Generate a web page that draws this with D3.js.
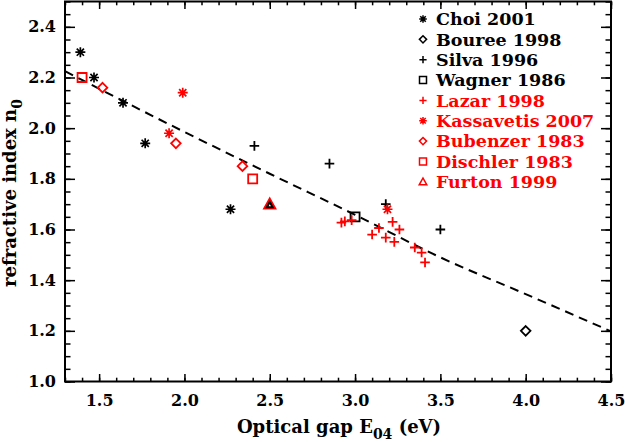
<!DOCTYPE html>
<html><head><meta charset="utf-8">
<script src="https://cdn.jsdelivr.net/npm/d3@7"></script>
<style>
html,body{margin:0;padding:0;background:#fff;}
</style></head>
<body><svg id="c" width="625" height="442"></svg>
<script>
// ---- data ----
const choiE = [1.39, 1.47, 1.64, 1.77, 2.27];
const choiN = [2.30, 2.20, 2.10, 1.94, 1.68];
const boureeE = [4.00];
const boureeN = [1.20];
const silvaE = [2.41, 2.85, 3.18, 3.50];
const silvaN = [1.93, 1.86, 1.70, 1.60];
const wagnerE = [3.00];
const wagnerN = [1.65];
const lazarE = [2.92, 2.94, 2.98, 3.10, 3.14, 3.18, 3.22, 3.23, 3.26, 3.35, 3.39, 3.41];
const lazarN = [1.627, 1.632, 1.637, 1.58, 1.606, 1.568, 1.63, 1.551, 1.60, 1.529, 1.509, 1.47];
const kassE = [1.91, 1.99, 3.19];
const kassN = [1.98, 2.14, 1.68];
const bubE = [1.52, 1.95, 2.34];
const bubN = [2.16, 1.94, 1.85];
const dischE = [1.40, 2.40];
const dischN = [2.20, 1.80];
const furtonE = [2.50];
const furtonN = [1.70];
const fitE = [1.3, 2.0, 2.5, 3.0, 3.5, 4.0, 4.5];
const fitN = [2.225, 1.985, 1.82, 1.658, 1.49, 1.345, 1.198];
const xTicks = [1.5, 2.0, 2.5, 3.0, 3.5, 4.0, 4.5];
const yTicks = [1.0, 1.2, 1.4, 1.6, 1.8, 2.0, 2.2, 2.4];
const seriesNames = ["Choi 2001","Bouree 1998","Silva 1996","Wagner 1986","Lazar 1998","Kassavetis 2007","Bubenzer 1983","Dischler 1983","Furton 1999"];

const series = [
  {name:seriesNames[0], E:choiE, N:choiN, sym:"ast", col:"#000"},
  {name:seriesNames[1], E:boureeE, N:boureeN, sym:"dia", col:"#000"},
  {name:seriesNames[2], E:silvaE, N:silvaN, sym:"plus", col:"#000"},
  {name:seriesNames[3], E:wagnerE, N:wagnerN, sym:"sq", col:"#000"},
  {name:seriesNames[4], E:lazarE, N:lazarN, sym:"plus", col:"#ff0000"},
  {name:seriesNames[5], E:kassE, N:kassN, sym:"ast", col:"#ff0000"},
  {name:seriesNames[6], E:bubE, N:bubN, sym:"dia", col:"#ff0000"},
  {name:seriesNames[7], E:dischE, N:dischN, sym:"sq", col:"#ff0000"},
  {name:seriesNames[8], E:furtonE, N:furtonN, sym:"tri", col:"#ff0000"}
];

const FONT = "'DejaVu Serif', 'Liberation Serif', serif";
const L = 65, R = 611, T = 1.5, B = 381.5;
const x = d3.scaleLinear().domain([1.3, 4.5]).range([L, R]);
const y = d3.scaleLinear().domain([1.0, 2.5]).range([B, T]);
const svg = d3.select("#c");

function symPath(t, s){
  const k = s*0.72;
  switch(t){
    case "plus": return `M${-s},0H${s}M0,${-s}V${s}`;
    case "ast": return `M${-s},0H${s}M0,${-s}V${s}M${-k},${-k}L${k},${k}M${-k},${k}L${k},${-k}`;
    case "dia": return `M0,${-s}L${s},0L0,${s}L${-s},0Z`;
    case "sq": return `M${-s},${-s}H${s}V${s}H${-s}Z`;
    case "tri": return `M0,${-s}L${s},${s*0.8}L${-s},${s*0.8}Z`;
  }
}
const plotSize = {plus:4.8, ast:5, dia:4.8, sq:4.5, tri:5.2};
const legSize = {plus:3.6, ast:3.8, dia:3.6, sq:3.5, tri:3.8};

// ticks
const xMinor = d3.range(13, 46).map(v => v/10);
const yMinor = d3.range(20, 51).map(v => v/20);
const fmt = d3.format(".1f");
function ax(gen, scale, vals, size, labels){
  const a = gen(scale).tickValues(vals).tickSize(size).tickPadding(8);
  if(!labels) a.tickFormat("");
  else a.tickFormat(fmt);
  return a;
}
const gB = svg.append("g").attr("transform",`translate(0,${B})`);
gB.append("g").call(ax(d3.axisBottom, x, xMinor, -3.8, false));
gB.append("g").call(ax(d3.axisBottom, x, xTicks, -7.5, true));
const gT = svg.append("g").attr("transform",`translate(0,${T})`);
gT.append("g").call(ax(d3.axisTop, x, xMinor, -3.8, false));
gT.append("g").call(ax(d3.axisTop, x, xTicks, -7.5, false));
const gL = svg.append("g").attr("transform",`translate(${L},0)`);
gL.append("g").call(ax(d3.axisLeft, y, yMinor, -5.5, false));
gL.append("g").call(ax(d3.axisLeft, y, yTicks, -10, true));
const gR = svg.append("g").attr("transform",`translate(${R},0)`);
gR.append("g").call(ax(d3.axisRight, y, yMinor, -5.5, false));
gR.append("g").call(ax(d3.axisRight, y, yTicks, -10, false));
svg.selectAll(".domain").remove();
svg.selectAll("g").attr("font-family", FONT);
svg.selectAll(".tick line").attr("stroke","#000").attr("stroke-width",1.5);
svg.selectAll(".tick text").attr("font-size",16).attr("fill","#000")
   .attr("font-family",FONT).attr("font-weight","bold");
gB.selectAll(".tick text").attr("dy","1.0em");
gL.selectAll(".tick text").attr("dx","-1");

svg.append("rect").attr("x",L).attr("y",T).attr("width",R-L).attr("height",B-T)
  .attr("fill","none").attr("stroke","#000").attr("stroke-width",2);

// fit line
const line = d3.line().x((d,i)=>x(fitE[i])).y((d,i)=>y(fitN[i])).curve(d3.curveMonotoneX);
svg.append("path").datum(fitE).attr("d",line).attr("fill","none")
  .attr("stroke","#000").attr("stroke-width",2).attr("stroke-dasharray","9,6");

// points
series.forEach(s=>{
  const g = svg.append("g");
  s.E.forEach((e,i)=>{
    if(s.sym==="tri"){
      g.append("path").attr("d",symPath("tri",plotSize.tri)).attr("transform",`translate(${x(e)},${y(s.N[i])})`)
       .attr("fill","none").attr("stroke",s.col).attr("stroke-width",2.4);
      g.append("path").attr("d",symPath("tri",plotSize.tri*0.55)).attr("transform",`translate(${x(e)},${y(s.N[i])+0.8})`)
       .attr("fill","none").attr("stroke","#000").attr("stroke-width",2);
    } else {
      g.append("path").attr("d",symPath(s.sym,plotSize[s.sym])).attr("transform",`translate(${x(e)},${y(s.N[i])})`)
       .attr("fill","none").attr("stroke",s.col).attr("stroke-width",s.sym==="ast"?1.7:1.8);
    }
  });
});

// legend
const lg = svg.append("g");
series.forEach((s,i)=>{
  const yy = 19 + i*20.35;
  lg.append("path").attr("d",symPath(s.sym,legSize[s.sym])).attr("transform",`translate(423,${yy})`)
    .attr("fill","none").attr("stroke",s.col).attr("stroke-width",1.5);
  lg.append("text").attr("x",436).attr("y",yy).attr("dy","0.36em").attr("font-size",17.5)
    .attr("font-family",FONT).attr("font-weight","bold")
    .attr("fill",s.col).text(s.name);
});

// axis titles
const xt = svg.append("text").attr("x",339).attr("y",433).attr("text-anchor","middle").attr("font-size",18)
  .attr("font-family",FONT).attr("font-weight","bold").attr("fill","#000");
xt.append("tspan").text("Optical gap E");
xt.append("tspan").attr("font-size",14).attr("dy",6).text("04");
xt.append("tspan").attr("dy",-6).text(" (eV)");
const yt = svg.append("text").attr("transform","translate(16,193) rotate(-90)").attr("text-anchor","middle").attr("font-size",18)
  .attr("font-family",FONT).attr("font-weight","bold").attr("fill","#000");
yt.append("tspan").text("refractive index n");
yt.append("tspan").attr("font-size",14).attr("dy",6).text("0");
</script></body></html>
